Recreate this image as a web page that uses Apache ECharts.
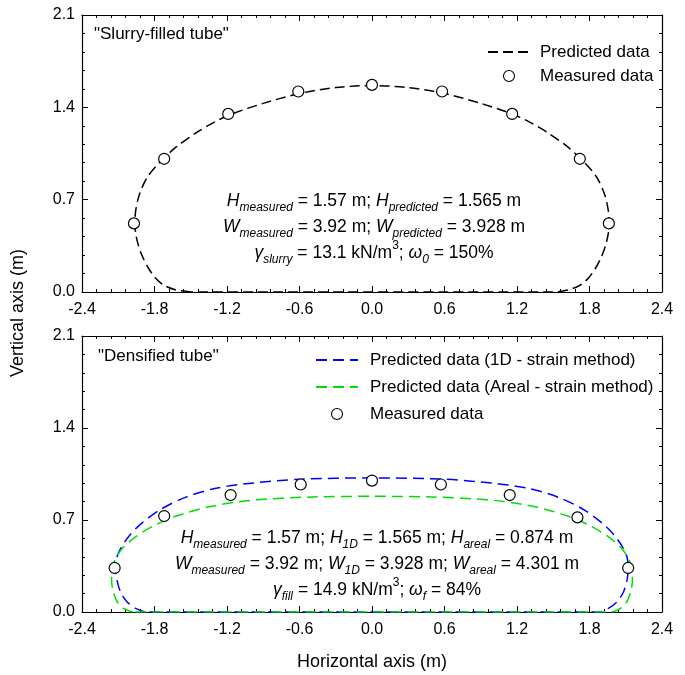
<!DOCTYPE html>
<html>
<head>
<meta charset="utf-8">
<script src="https://cdn.jsdelivr.net/npm/echarts@6/dist/echarts.min.js"></script>
<style>html,body{margin:0;padding:0;background:#fff}#c{width:685px;height:675px}</style>
</head>
<body>
<div id="c"></div>
<script>
// ---- data ----
const xTickValues = [-2.4, -1.8, -1.2, -0.6, 0.0, 0.6, 1.2, 1.8, 2.4];
const yTickValues = [0.0, 0.7, 1.4, 2.1];

// Top panel: slurry-filled tube
const slurryPredX = [-1.5, -1.62, -1.72, -1.79, -1.85, -1.9, -1.935, -1.955, -1.962, -1.955, -1.925, -1.86, -1.76, -1.62, -1.45, -1.3, -1.16, -0.9, -0.6, -0.3, 0, 0.3, 0.6, 0.9, 1.16, 1.3, 1.45, 1.62, 1.76, 1.86, 1.925, 1.955, 1.962, 1.955, 1.935, 1.9, 1.85, 1.79, 1.72, 1.62, 1.5, -1.5];
const slurryPredY = [0, 0.015, 0.05, 0.105, 0.18, 0.27, 0.36, 0.44, 0.52, 0.62, 0.74, 0.87, 0.98, 1.10, 1.21, 1.29, 1.35, 1.43, 1.505, 1.55, 1.565, 1.55, 1.505, 1.43, 1.35, 1.29, 1.21, 1.10, 0.98, 0.87, 0.74, 0.62, 0.52, 0.44, 0.36, 0.27, 0.18, 0.105, 0.05, 0.015, 0, 0];
const slurryMeasX = [-1.97, -1.72, -1.19, -0.61, 0, 0.58, 1.16, 1.72, 1.96];
const slurryMeasY = [0.52, 1.01, 1.35, 1.52, 1.57, 1.52, 1.35, 1.01, 0.52];

// Bottom panel: densified tube
const dens1DX = [-1.88, -1.96, -2.03, -2.08, -2.11, -2.12, -2.11, -2.07, -2.0, -1.9, -1.75, -1.55, -1.3, -1.0, -0.6, 0, 0.6, 1.0, 1.3, 1.55, 1.75, 1.9, 2.0, 2.07, 2.11, 2.12, 2.11, 2.08, 2.03, 1.96, 1.88, -1.88];
const dens1DY = [0, 0.03, 0.08, 0.15, 0.24, 0.33, 0.42, 0.50, 0.59, 0.68, 0.78, 0.87, 0.94, 0.98, 1.01, 1.02, 1.01, 0.98, 0.94, 0.87, 0.78, 0.68, 0.59, 0.50, 0.42, 0.33, 0.24, 0.15, 0.08, 0.03, 0, 0];
const densArealX = [-1.98, -2.06, -2.11, -2.14, -2.155, -2.15, -2.12, -2.06, -1.96, -1.82, -1.62, -1.35, -1.0, -0.5, 0, 0.5, 1.0, 1.35, 1.62, 1.82, 1.96, 2.06, 2.12, 2.15, 2.155, 2.14, 2.11, 2.06, 1.98, -1.98];
const densArealY = [0, 0.03, 0.08, 0.15, 0.24, 0.33, 0.41, 0.49, 0.57, 0.65, 0.73, 0.80, 0.85, 0.875, 0.88, 0.875, 0.85, 0.80, 0.73, 0.65, 0.57, 0.49, 0.41, 0.33, 0.24, 0.15, 0.08, 0.03, 0, 0];
const densMeasX = [-2.13, -1.72, -1.17, -0.59, 0, 0.57, 1.14, 1.70, 2.12];
const densMeasY = [0.335, 0.73, 0.89, 0.97, 1.0, 0.97, 0.89, 0.72, 0.335];

const seriesNames = {
  pred: 'Predicted data',
  meas: 'Measured data',
  p1d: 'Predicted data (1D - strain method)',
  pareal: 'Predicted data (Areal - strain method)'
};
const panelLabels = ['"Slurry-filled tube"', '"Densified tube"'];
const axisTitles = { x: 'Horizontal axis (m)', y: 'Vertical axis (m)' };

// ---- build ----
const zip = (xs, ys) => xs.map((x, i) => [x, ys[i]]);
const fmt = v => (Math.abs(v) < 1e-9 ? 0 : v).toFixed(1);
const FONT = '"Liberation Sans", Arial, sans-serif';
const X_MIN = xTickValues[0], X_MAX = xTickValues[xTickValues.length - 1];
const X_INT = xTickValues[1] - xTickValues[0];
const Y_MIN = yTickValues[0], Y_MAX = yTickValues[yTickValues.length - 1];
const Y_INT = yTickValues[1] - yTickValues[0];

const chart = echarts.init(document.getElementById('c'), null, { renderer: 'canvas' });

const axisLineStyle = { color: '#000', width: 1.2 };
function xAxisDef(gridIndex, isTop) {
  return {
    type: 'value', gridIndex, min: X_MIN, max: X_MAX, interval: X_INT,
    position: isTop ? 'top' : 'bottom',
    axisLine: { show: true, onZero: false, lineStyle: axisLineStyle },
    axisTick: { show: true, inside: true, length: 6, lineStyle: { color: '#000', width: 1 } },
    minorTick: { show: true, splitNumber: 5, length: 3, lineStyle: { color: '#000', width: 1 } },
    splitLine: { show: false },
    axisLabel: isTop ? { show: false } : {
      show: true, color: '#000', fontSize: 16, fontFamily: FONT, margin: 10, formatter: fmt
    }
  };
}
function yAxisDef(gridIndex, isRight) {
  return {
    type: 'value', gridIndex, min: Y_MIN, max: Y_MAX, interval: Y_INT,
    position: isRight ? 'right' : 'left',
    axisLine: { show: true, onZero: false, lineStyle: axisLineStyle },
    axisTick: { show: true, inside: true, length: 6, lineStyle: { color: '#000', width: 1 } },
    minorTick: { show: true, splitNumber: 5, length: 3, lineStyle: { color: '#000', width: 1 } },
    splitLine: { show: false },
    axisLabel: isRight ? { show: false } : {
      show: true, color: '#000', fontSize: 16, fontFamily: FONT, margin: 7, formatter: fmt
    }
  };
}

const mainSt = { fontSize: 17.5, fontFamily: FONT, color: '#000', lineHeight: 26, verticalAlign: 'middle' };
const rich = {
  n: Object.assign({}, mainSt),
  it: Object.assign({}, mainSt, { fontStyle: 'italic' }),
  sub: { fontSize: 12, fontFamily: FONT, fontStyle: 'italic', color: '#000', lineHeight: 11, verticalAlign: 'bottom' },
  sup: { fontSize: 12, fontFamily: FONT, color: '#000', lineHeight: 19, verticalAlign: 'top' }
};

const topNote = [
  '{it|H}{sub|measured}{n| = 1.57 m; }{it|H}{sub|predicted}{n| = 1.565 m}',
  '{it|W}{sub|measured}{n| = 3.92 m; }{it|W}{sub|predicted}{n| = 3.928 m}',
  '{it|γ}{sub|slurry}{n| = 13.1 kN/m}{sup|3}{n|; }{it|ω}{sub|0}{n| = 150%}'
].join('\n');
const botNote = [
  '{it|H}{sub|measured}{n| = 1.57 m; }{it|H}{sub|1D}{n| = 1.565 m; }{it|H}{sub|areal}{n| = 0.874 m}',
  '{it|W}{sub|measured}{n| = 3.92 m; }{it|W}{sub|1D}{n| = 3.928 m; }{it|W}{sub|areal}{n| = 4.301 m}',
  '{it|γ}{sub|fill}{n| = 14.9 kN/m}{sup|3}{n|; }{it|ω}{sub|f}{n| = 84%}'
].join('\n');

const hideSym = { opacity: 0 };
const dashBlack = { color: '#000', width: 1.5, type: [10, 5] };
const circleStyle = { color: '#fff', borderColor: '#000', borderWidth: 1.2, opacity: 1 };
const legendCircle = { color: '#fff', borderColor: '#000', borderWidth: 1.1 };
const option = {
  animation: false,
  backgroundColor: '#fff',
  grid: [
    { left: 82, right: 23, top: 15, height: 277 },
    { left: 82, right: 23, top: 336, height: 276 }
  ],
  xAxis: [xAxisDef(0, false), xAxisDef(0, true), xAxisDef(1, false), xAxisDef(1, true)],
  yAxis: [yAxisDef(0, false), yAxisDef(0, true), yAxisDef(1, false), yAxisDef(1, true)],
  legend: [
    {
      orient: 'vertical', left: 482, top: 37, itemWidth: 42, itemHeight: 11, itemGap: 4,
      selectedMode: false,
      data: [{ name: seriesNames.pred, itemStyle: hideSym }, { name: seriesNames.meas, itemStyle: legendCircle }],
      textStyle: { color: '#000', fontSize: 17, fontFamily: FONT, lineHeight: 20, padding: [0, 0, 0, 5] }
    },
    {
      orient: 'vertical', left: 310, top: 345, itemWidth: 42, itemHeight: 11, itemGap: 7,
      selectedMode: false,
      data: [{ name: seriesNames.p1d, itemStyle: hideSym }, { name: seriesNames.pareal, itemStyle: hideSym }, { name: seriesNames.meas, itemStyle: legendCircle }],
      textStyle: { color: '#000', fontSize: 17, fontFamily: FONT, lineHeight: 20, padding: [0, 0, 0, 7] }
    }
  ],
  series: [
    { name: seriesNames.pred, type: 'line', xAxisIndex: 0, yAxisIndex: 0, data: zip(slurryPredX, slurryPredY),
      symbol: 'none', smooth: 0.3, lineStyle: dashBlack, itemStyle: { color: '#000' }, z: 2 },
    { name: seriesNames.meas, type: 'scatter', xAxisIndex: 0, yAxisIndex: 0, data: zip(slurryMeasX, slurryMeasY),
      symbol: 'circle', symbolSize: 11, itemStyle: circleStyle, z: 5 },
    { name: seriesNames.p1d, type: 'line', xAxisIndex: 2, yAxisIndex: 2, data: zip(dens1DX, dens1DY),
      symbol: 'none', smooth: 0.3, lineStyle: { color: '#0000ff', width: 1.5, type: [11, 6] }, itemStyle: { color: '#0000ff' }, z: 2 },
    { name: seriesNames.pareal, type: 'line', xAxisIndex: 2, yAxisIndex: 2, data: zip(densArealX, densArealY),
      symbol: 'none', smooth: 0.3, lineStyle: { color: '#00dd00', width: 1.5, type: [11, 6] }, itemStyle: { color: '#00dd00' }, z: 2 },
    { name: seriesNames.meas, type: 'scatter', xAxisIndex: 2, yAxisIndex: 2, data: zip(densMeasX, densMeasY),
      symbol: 'circle', symbolSize: 11, itemStyle: circleStyle, z: 5 }
  ],
  graphic: [
    { type: 'text', left: 94, top: 26, style: { text: panelLabels[0], fill: '#000', font: '17px ' + FONT } },
    { type: 'text', left: 98, top: 348, style: { text: panelLabels[1], fill: '#000', font: '17px ' + FONT } },
    { type: 'text', x: 374, y: 227, style: { text: topNote, rich, align: 'center', verticalAlign: 'middle', fill: '#000', font: '17.5px ' + FONT } },
    { type: 'text', x: 377, y: 564, style: { text: botNote, rich, align: 'center', verticalAlign: 'middle', fill: '#000', font: '17.5px ' + FONT } },
    { type: 'text', x: 372, y: 662, style: { text: axisTitles.x, align: 'center', verticalAlign: 'middle', fill: '#000', font: '18px ' + FONT } },
    { type: 'text', x: 18, y: 313, rotation: Math.PI / 2, style: { text: axisTitles.y, align: 'center', verticalAlign: 'middle', fill: '#000', font: '18px ' + FONT } }
  ]
};
chart.setOption(option);
</script>
</body>
</html>
